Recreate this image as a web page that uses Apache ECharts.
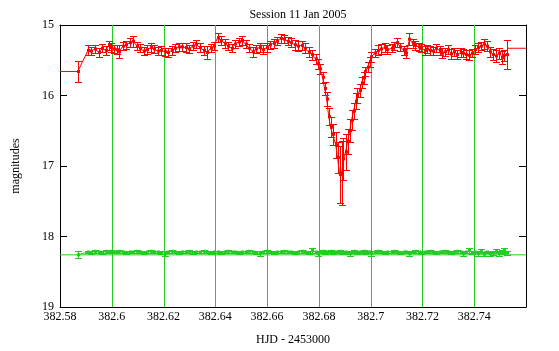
<!DOCTYPE html>
<html><head><meta charset="utf-8">
<script src="https://cdn.jsdelivr.net/npm/echarts/dist/echarts.min.js"></script>
<style>html,body{margin:0;padding:0;background:#fff}#c{width:559px;height:351px}</style>
</head><body><div id="c"></div>
<script>
// Observation times (HJD - 2453000)
var times = [
382.5869,382.5908,382.5920,382.5935,382.5950,382.5962,382.5977,382.5989,382.5997,382.6008,
382.6020,382.6028,382.6043,382.6055,382.6070,382.6082,382.6097,382.6109,382.6124,382.6136,
382.6151,382.6163,382.6178,382.6190,382.6205,382.6217,382.6232,382.6244,382.6259,382.6271,
382.6286,382.6298,382.6313,382.6325,382.6340,382.6355,382.6367,382.6382,382.6394,382.6409,
382.6421,382.6436,382.6448,382.6463,382.6475,382.6490,382.6502,382.6517,382.6529,382.6544,
382.6556,382.6571,382.6583,382.6598,382.6610,382.6625,382.6637,382.6652,382.6664,382.6679,
382.6691,382.6706,382.6718,382.6733,382.6745,382.6760,382.6772,382.6787,382.6795,382.6803,
382.6814,382.6822,382.6830,382.6838,382.6845,382.6853,382.6865,382.6872,382.6880,382.6888,
382.6895,382.6903,382.6911,382.6919,382.6926,382.6934,382.6942,382.6949,382.6957,382.6965,
382.6973,382.6980,382.6988,382.6996,382.7003,382.7015,382.7027,382.7038,382.7054,382.7065,
382.7081,382.7092,382.7100,382.7115,382.7127,382.7138,382.7150,382.7162,382.7173,382.7185,
382.7196,382.7208,382.7219,382.7231,382.7242,382.7254,382.7266,382.7277,382.7289,382.7300,
382.7312,382.7323,382.7335,382.7347,382.7358,382.7370,382.7381,382.7393,382.7404,382.7416,
382.7428,382.7439,382.7451,382.7462,382.7474,382.7485,382.7497,382.7509,382.7516,382.7528
];
// Variable star magnitudes (red)
var varMag = [
15.66,15.36,15.37,15.34,15.39,15.33,15.36,15.29,15.32,15.34,
15.35,15.38,15.30,15.28,15.25,15.23,15.30,15.33,15.37,15.35,
15.32,15.34,15.37,15.36,15.38,15.39,15.36,15.33,15.31,15.31,
15.32,15.34,15.30,15.27,15.32,15.36,15.39,15.33,15.30,15.18,
15.22,15.26,15.30,15.33,15.27,15.24,15.22,15.27,15.33,15.38,
15.34,15.32,15.35,15.32,15.28,15.26,15.23,15.19,15.20,15.23,
15.25,15.28,15.30,15.29,15.33,15.38,15.42,15.48,15.55,15.62,
15.74,15.90,16.05,16.30,16.45,16.55,16.70,16.88,17.12,17.10,
16.90,16.80,16.65,16.50,16.35,16.22,16.08,16.00,15.93,15.82,
15.75,15.66,15.60,15.52,15.45,15.40,15.36,15.34,15.32,15.35,
15.33,15.30,15.25,15.31,15.36,15.40,15.20,15.26,15.29,15.31,
15.33,15.36,15.34,15.36,15.37,15.33,15.36,15.40,15.38,15.35,
15.41,15.38,15.42,15.39,15.40,15.42,15.43,15.40,15.35,15.32,
15.30,15.27,15.30,15.38,15.42,15.44,15.40,15.46,15.43,15.42
];
var varErr = [
0.15,0.07,0.06,0.06,0.07,0.06,0.06,0.06,0.06,0.06,
0.06,0.09,0.06,0.06,0.06,0.08,0.06,0.06,0.06,0.06,
0.06,0.06,0.06,0.06,0.06,0.06,0.06,0.06,0.06,0.06,
0.06,0.06,0.06,0.06,0.06,0.06,0.09,0.06,0.06,0.06,
0.06,0.06,0.06,0.06,0.06,0.06,0.07,0.06,0.06,0.07,
0.06,0.06,0.06,0.06,0.06,0.06,0.06,0.06,0.06,0.06,
0.06,0.07,0.07,0.07,0.07,0.07,0.07,0.07,0.07,0.07,
0.08,0.09,0.10,0.12,0.14,0.15,0.18,0.22,0.40,0.45,
0.30,0.25,0.18,0.16,0.14,0.12,0.11,0.10,0.09,0.08,
0.08,0.07,0.07,0.07,0.07,0.06,0.07,0.07,0.06,0.06,
0.06,0.06,0.06,0.06,0.06,0.07,0.08,0.06,0.06,0.06,
0.06,0.06,0.06,0.06,0.06,0.06,0.06,0.07,0.06,0.06,
0.07,0.06,0.06,0.06,0.06,0.06,0.07,0.06,0.06,0.06,
0.06,0.07,0.07,0.07,0.08,0.08,0.08,0.09,0.08,0.21
];
// Check star magnitudes (green)
var chkMag = [
18.26,18.22,18.23,18.21,18.22,18.23,18.21,18.22,18.21,18.22,
18.22,18.21,18.22,18.23,18.22,18.22,18.21,18.22,18.23,18.22,
18.21,18.22,18.22,18.23,18.24,18.22,18.21,18.22,18.23,18.22,
18.22,18.21,18.23,18.22,18.22,18.21,18.22,18.23,18.22,18.22,
18.23,18.22,18.21,18.22,18.22,18.23,18.22,18.22,18.21,18.22,
18.23,18.24,18.22,18.21,18.22,18.23,18.22,18.22,18.21,18.22,
18.22,18.23,18.22,18.21,18.22,18.23,18.20,18.22,18.24,18.22,
18.21,18.23,18.22,18.22,18.21,18.23,18.22,18.22,18.21,18.23,
18.22,18.22,18.23,18.24,18.22,18.21,18.22,18.23,18.22,18.22,
18.21,18.23,18.22,18.22,18.24,18.22,18.21,18.22,18.23,18.22,
18.22,18.21,18.22,18.23,18.22,18.22,18.24,18.22,18.21,18.22,
18.23,18.22,18.22,18.21,18.22,18.23,18.22,18.22,18.21,18.22,
18.23,18.22,18.21,18.22,18.24,18.22,18.20,18.23,18.22,18.24,
18.21,18.25,18.22,18.24,18.23,18.21,18.24,18.22,18.20,18.23
];
var chkErr = [
0.05,0.02,0.02,0.02,0.02,0.02,0.02,0.02,0.02,0.02,
0.02,0.02,0.02,0.02,0.02,0.02,0.02,0.02,0.02,0.02,
0.02,0.02,0.02,0.02,0.03,0.02,0.02,0.02,0.02,0.02,
0.02,0.02,0.02,0.02,0.02,0.02,0.02,0.02,0.02,0.02,
0.02,0.02,0.02,0.02,0.02,0.02,0.02,0.02,0.02,0.02,
0.02,0.03,0.02,0.02,0.02,0.02,0.02,0.02,0.02,0.02,
0.02,0.02,0.02,0.02,0.02,0.02,0.03,0.02,0.03,0.02,
0.02,0.02,0.02,0.02,0.02,0.02,0.02,0.02,0.02,0.02,
0.02,0.02,0.02,0.03,0.02,0.02,0.02,0.02,0.02,0.02,
0.02,0.02,0.02,0.02,0.03,0.02,0.02,0.02,0.02,0.02,
0.02,0.02,0.02,0.02,0.02,0.02,0.03,0.02,0.02,0.02,
0.02,0.02,0.02,0.02,0.02,0.02,0.02,0.02,0.02,0.02,
0.02,0.02,0.02,0.02,0.03,0.02,0.03,0.02,0.02,0.03,
0.03,0.03,0.02,0.04,0.03,0.03,0.04,0.03,0.04,0.03
];
// Reference levels
var varStartLevel = [15.66];
var varEndLevel = [15.33];
var chkLevel = [18.26];
// Axis ranges / ticks
var xRange = [382.58, 382.76];
var xStep = [0.02];
var yRange = [15, 19];
var xTickLabels = ['382.58','382.6','382.62','382.64','382.66','382.68','382.7','382.72','382.74',''];
var yTickLabels = ['15','16','17','18','19'];
var gridX = [382.60, 382.62, 382.64, 382.66, 382.68, 382.70, 382.72, 382.74];

var RED = '#ff0000', GREEN = '#22cc22';
function px(v){ return Math.round(v) + 0.5; }
function errRender(color){
  return function(params, api){
    var t = api.value(0), m = api.value(1), e = api.value(2);
    var a = api.coord([t, m - e]), b = api.coord([t, m + e]), c = api.coord([t, m]);
    var x = px(a[0]), hw = 3.5;
    var st = {stroke: color, lineWidth: 1};
    return {type: 'group', children: [
      {type: 'line', shape: {x1: x, y1: px(a[1]), x2: x, y2: px(b[1])}, style: st},
      {type: 'line', shape: {x1: x - hw, y1: px(a[1]), x2: x + hw, y2: px(a[1])}, style: st},
      {type: 'line', shape: {x1: x - hw, y1: px(b[1]), x2: x + hw, y2: px(b[1])}, style: st},
      {type: 'rect', shape: {x: x - 1.5, y: c[1] - 1.5, width: 3, height: 3}, style: {fill: color}}
    ]};
  };
}
function gridRender(params, api){
  var t = api.value(0);
  var a = api.coord([t, yRange[0]]), b = api.coord([t, yRange[1]]);
  var x = px(a[0]);
  return {type: 'line', shape: {x1: x, y1: a[1], x2: x, y2: b[1]}, style: {stroke: GREEN, lineWidth: 1}};
}
function zip3(t, m, e){ var n = Math.min(t.length, m.length, e.length), r = []; for (var i = 0; i < n; i++) r.push([t[i], m[i], e[i]]); return r; }
function zip2(t, m){ var n = Math.min(t.length, m.length), r = []; for (var i = 0; i < n; i++) r.push([t[i], m[i]]); return r; }

var varLine = [[xRange[0], varStartLevel[0]]].concat(zip2(times, varMag));
var varTail = [[times[times.length - 1], varEndLevel[0]], [xRange[1], varEndLevel[0]]];
var chkLine = zip2(times, chkMag);
var chkRef = [[xRange[0], chkLevel[0]], [xRange[1], chkLevel[0]]];

var FONT = 'Liberation Serif';
var chart = echarts.init(document.getElementById('c'));
chart.setOption({
  animation: false,
  backgroundColor: '#fff',
  title: {text: 'Session 11 Jan 2005', left: 293, top: 4, textAlign: 'center',
    textStyle: {fontFamily: FONT, fontSize: 12, fontWeight: 'normal', color: '#000'}},
  grid: {left: 60, right: 33, top: 25, bottom: 38, containLabel: false},
  xAxis: [
    {type: 'value', min: xRange[0], max: xRange[1], interval: xStep[0], position: 'bottom',
     name: 'HJD - 2453000', nameLocation: 'middle', nameGap: 27,
     nameTextStyle: {fontFamily: FONT, fontSize: 12, color: '#000'},
     axisLine: {show: true, lineStyle: {color: '#000', width: 1}},
     axisTick: {show: false},
     axisLabel: {fontFamily: FONT, fontSize: 12, color: '#000', margin: 4,
       formatter: function(v){ var i = Math.round((v - xRange[0]) / xStep[0]); return xTickLabels[i] || ''; }},
     splitLine: {show: false}},
    {type: 'value', min: xRange[0], max: xRange[1], interval: xStep[0], position: 'top',
     axisLine: {show: true, lineStyle: {color: '#000', width: 1}},
     axisTick: {show: false}, axisLabel: {show: false}, splitLine: {show: false}}
  ],
  yAxis: [
    {type: 'value', inverse: true, min: yRange[0], max: yRange[1], interval: 1, position: 'left',
     name: 'magnitudes', nameLocation: 'middle', nameGap: 38, nameRotate: 90,
     nameTextStyle: {fontFamily: FONT, fontSize: 12, color: '#000'},
     axisLine: {show: true, lineStyle: {color: '#000', width: 1}},
     axisTick: {show: true, inside: true, length: 7, lineStyle: {color: '#000'}},
     axisLabel: {fontFamily: FONT, fontSize: 12, color: '#000', margin: 6,
       formatter: function(v){ return yTickLabels[Math.round(v - yRange[0])] || ''; }},
     splitLine: {show: false}},
    {type: 'value', inverse: true, min: yRange[0], max: yRange[1], interval: 1, position: 'right',
     axisLine: {show: true, lineStyle: {color: '#000', width: 1}},
     axisTick: {show: true, inside: true, length: 7, lineStyle: {color: '#000'}},
     axisLabel: {show: false}, splitLine: {show: false}}
  ],
  series: [
    {type: 'custom', renderItem: gridRender, data: gridX.map(function(v){ return [v]; }), encode: {x: 0}, z: 1, silent: true},
    {type: 'line', data: chkRef, showSymbol: false, lineStyle: {color: GREEN, width: 1}, z: 3},
    {type: 'line', data: chkLine, showSymbol: false, lineStyle: {color: GREEN, width: 1}, z: 3},
    {type: 'custom', renderItem: errRender(GREEN), data: zip3(times, chkMag, chkErr), encode: {x: 0, y: 1}, z: 4},
    {type: 'line', data: varLine, showSymbol: false, lineStyle: {color: RED, width: 1}, z: 5},
    {type: 'line', data: varTail, showSymbol: false, lineStyle: {color: RED, width: 1}, z: 5},
    {type: 'custom', renderItem: errRender(RED), data: zip3(times, varMag, varErr), encode: {x: 0, y: 1}, z: 6}
  ]
});
</script></body></html>
